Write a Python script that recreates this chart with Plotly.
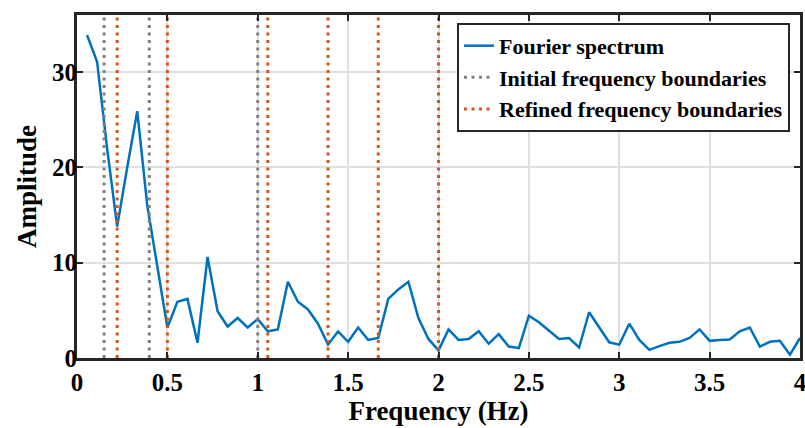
import plotly.graph_objects as go

# Frequency bins (Hz)
freq = [0.0556, 0.1111, 0.1667, 0.2222, 0.2778, 0.3333, 0.3889, 0.4444, 0.5000,
        0.5556, 0.6111, 0.6667, 0.7222, 0.7778, 0.8333, 0.8889, 0.9444, 1.0000,
        1.0556, 1.1111, 1.1667, 1.2222, 1.2778, 1.3333, 1.3889, 1.4444, 1.5000,
        1.5556, 1.6111, 1.6667, 1.7222, 1.7778, 1.8333, 1.8889, 1.9444, 2.0000,
        2.0556, 2.1111, 2.1667, 2.2222, 2.2778, 2.3333, 2.3889, 2.4444, 2.5000,
        2.5556, 2.6111, 2.6667, 2.7222, 2.7778, 2.8333, 2.8889, 2.9444, 3.0000,
        3.0556, 3.1111, 3.1667, 3.2222, 3.2778, 3.3333, 3.3889, 3.4444, 3.5000,
        3.5556, 3.6111, 3.6667, 3.7222, 3.7778, 3.8333, 3.8889, 3.9444, 4.0000]

# Fourier amplitude
amplitude = [33.9, 31.1, 22.0, 13.8, 20.0, 25.9, 16.0, 9.4, 3.2,
             5.9, 6.2, 1.6, 10.6, 4.9, 3.3, 4.2, 3.2, 4.1,
             2.8, 3.0, 8.0, 5.9, 5.1, 3.6, 1.4, 2.8, 1.7,
             3.2, 1.9, 2.1, 6.2, 7.2, 8.0, 4.2, 2.0, 0.8,
             3.0, 1.9, 2.0, 2.8, 1.5, 2.5, 1.2, 1.05, 4.45,
             3.75, 2.9, 2.0, 2.1, 1.1, 4.8, 3.2, 1.65, 1.4,
             3.6, 1.9, 0.85, 1.25, 1.6, 1.7, 2.1, 3.0, 1.8,
             1.9, 1.95, 2.8, 3.2, 1.2, 1.7, 1.8, 0.35, 2.1]

initial_bounds = [0.15, 0.4, 1.0]
refined_bounds = [0.2222, 0.5, 1.0556, 1.3889, 1.6667, 2.0]

x_ticks = [0, 0.5, 1, 1.5, 2, 2.5, 3, 3.5, 4]
x_tick_labels = ["0", "0.5", "1", "1.5", "2", "2.5", "3", "3.5", "4"]
y_ticks = [0, 10, 20, 30]
y_tick_labels = ["0", "10", "20", "30"]
y_range = [0, 36]

BLUE = "#0072BD"
GRAY = "#808080"
ORANGE = "#D95319"
AX = "#262626"
FONT = "Liberation Serif, Times New Roman, serif"

fig = go.Figure()
fig.add_trace(go.Scatter(x=freq, y=amplitude, mode="lines",
                         line=dict(color=BLUE, width=2.5),
                         name="Fourier spectrum"))

for i, b in enumerate(initial_bounds):
    fig.add_trace(go.Scatter(x=[b, b], y=y_range, mode="lines",
                             line=dict(color=GRAY, width=3, dash="3px,4.5px"),
                             name="Initial frequency boundaries",
                             legendgroup="init", showlegend=(i == 0)))
for i, b in enumerate(refined_bounds):
    fig.add_trace(go.Scatter(x=[b, b], y=y_range, mode="lines",
                             line=dict(color=ORANGE, width=3, dash="3px,4.5px"),
                             name="Refined frequency boundaries",
                             legendgroup="ref", showlegend=(i == 0)))

axis_common = dict(
    showline=True, linecolor=AX, linewidth=3, mirror="ticks",
    ticks="inside", ticklen=6, tickwidth=2, tickcolor=AX,
    showgrid=True, gridcolor="#E0E0E0", gridwidth=2,
    zeroline=False,
    tickfont=dict(family=FONT, size=25, color="#000000", weight="bold"),
)

fig.update_xaxes(range=[0, 4], tickvals=x_ticks, ticktext=x_tick_labels,
                 ticklabeloverflow="allow",
                 title=dict(text="Frequency (Hz)", standoff=1,
                            font=dict(family=FONT, size=27, color="#000000", weight="bold")),
                 **axis_common)
fig.update_yaxes(range=y_range, tickvals=y_ticks, ticktext=y_tick_labels,
                 ticklabelstandoff=-8,
                 title=dict(text="Amplitude", standoff=8,
                            font=dict(family=FONT, size=27, color="#000000", weight="bold")),
                 **axis_common)

fig.update_layout(
    width=805, height=428,
    margin=dict(l=77, r=5, t=15, b=70, autoexpand=False),
    plot_bgcolor="white", paper_bgcolor="white",
    legend=dict(x=0.5256, y=0.977, xanchor="left", yanchor="top",
                bgcolor="white", bordercolor=AX, borderwidth=2,
                font=dict(family=FONT, size=22, color="#000000", weight="bold"),
                tracegroupgap=0, itemwidth=30),
)

fig.write_html("out.html", config={"displayModeBar": False},
               post_script="document.body.style.margin='0';document.body.style.overflow='hidden';")
